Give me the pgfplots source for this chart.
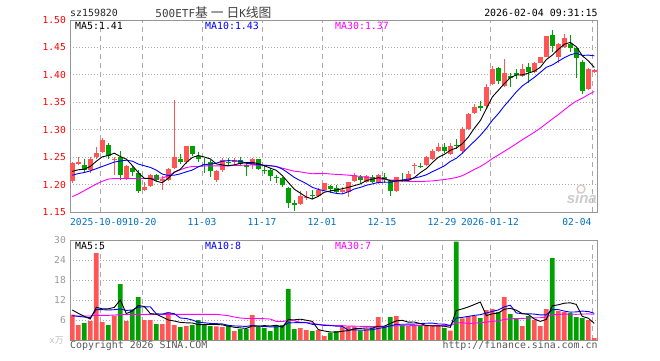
\documentclass[border=0pt]{standalone}
\usepackage{pgfplots}
\pgfplotsset{compat=1.18}
\usepackage{pgfplotstable}
\usepackage{fontspec}
\setmainfont{DejaVu Sans Mono}
\newfontfamily\cjk{Noto Sans CJK SC}
\newfontfamily\sinafont{Liberation Sans}
\definecolor{upred}{RGB}{255,85,85}
\definecolor{dngreen}{RGB}{0,160,0}
\definecolor{tickblue}{RGB}{0,112,192}
\definecolor{framegray}{RGB}{150,150,150}
\definecolor{gridgray}{RGB}{170,170,170}
\definecolor{mablue}{RGB}{0,0,255}
\definecolor{mamag}{RGB}{255,0,255}
\newcommand\tf{\fontsize{9.9}{11}\selectfont}
\newcommand\tkf{\fontsize{9.6}{11}\selectfont}
\newcommand\ck{\cjk\fontsize{12.8}{13}\selectfont}
\pgfplotstableread{
k o h l c u v m5 m10 m30 vm5 vm10 vm30
0 1.206 1.242 1.202 1.240 1 7.6 1.224 1.217 1.178 9.0 7.3 7.2
1 1.237 1.250 1.235 1.241 1 4.5 1.227 1.220 1.183 8.0 7.1 7.2
2 1.236 1.247 1.222 1.226 0 5.1 1.228 1.222 1.189 7.1 6.9 7.2
3 1.227 1.251 1.221 1.247 1 5.7 1.233 1.225 1.195 6.3 6.7 7.2
4 1.250 1.268 1.247 1.258 1 26.1 1.2424 1.229 1.201 9.80 9.1 7.4
5 1.260 1.285 1.258 1.281 1 5.4 1.2506 1.233 1.206 9.36 9.1 7.4
6 1.273 1.275 1.247 1.253 0 4.5 1.2530 1.237 1.210 9.36 9.0 7.4
7 1.246 1.251 1.217 1.247 1 7.3 1.2572 1.241 1.211 9.80 9.1 7.5
8 1.250 1.262 1.208 1.217 0 16.8 1.2512 1.243 1.211 12.02 9.3 7.6
9 1.212 1.236 1.209 1.234 1 5.7 1.2464 1.2444 1.211 7.94 8.87 7.7
10 1.231 1.233 1.216 1.223 0 9.0 1.2348 1.2427 1.211 8.66 9.01 7.7
11 1.222 1.227 1.185 1.188 0 12.9 1.2218 1.2374 1.211 10.34 9.85 7.7
12 1.191 1.205 1.188 1.195 1 6.0 1.2114 1.2343 1.211 10.08 9.94 7.7
13 1.198 1.219 1.196 1.217 1 6.0 1.2114 1.2313 1.211 7.92 9.97 7.7
14 1.217 1.219 1.206 1.208 0 4.8 1.2062 1.2263 1.212 7.74 7.84 7.7
15 1.208 1.215 1.190 1.209 1 4.8 1.2034 1.2191 1.212 6.90 7.78 7.7
16 1.208 1.231 1.206 1.229 1 8.4 1.2116 1.2167 1.216 6.00 8.17 7.7
17 1.230 1.354 1.228 1.251 1 4.5 1.2228 1.2171 1.222 5.70 7.89 7.7
18 1.246 1.255 1.237 1.242 0 3.9 1.2278 1.2196 1.227 5.28 6.60 7.7
19 1.241 1.270 1.238 1.270 1 4.2 1.2402 1.2232 1.231 5.16 6.45 7.7
20 1.270 1.271 1.253 1.255 0 4.5 1.2494 1.2264 1.233 5.10 6.00 7.7
21 1.253 1.260 1.241 1.247 0 6.0 1.2530 1.2323 1.233 4.62 5.31 7.7
22 1.238 1.249 1.222 1.237 0 4.5 1.2502 1.2365 1.234 4.62 5.16 7.7
23 1.241 1.244 1.214 1.225 0 4.2 1.2468 1.2373 1.234 4.68 4.98 7.7
24 1.208 1.227 1.204 1.225 1 4.1 1.2378 1.2390 1.234 4.66 4.91 7.7
25 1.226 1.248 1.223 1.245 1 3.9 1.2358 1.2426 1.234 4.54 4.82 7.5
26 1.242 1.249 1.235 1.240 0 4.2 1.2344 1.2437 1.234 4.18 4.40 7.3
27 1.241 1.249 1.236 1.245 1 2.7 1.2360 1.2431 1.235 3.82 4.22 6.9
28 1.245 1.251 1.235 1.238 0 3.3 1.2386 1.2427 1.235 3.64 4.16 6.6
29 1.236 1.239 1.216 1.232 0 3.3 1.2400 1.2389 1.2355 3.48 4.07 6.46
30 1.236 1.249 1.228 1.247 1 7.5 1.2404 1.2381 1.2357 4.20 4.37 6.46
31 1.247 1.247 1.226 1.229 0 3.9 1.2382 1.2363 1.2353 4.14 4.16 6.44
32 1.227 1.235 1.219 1.226 0 3.6 1.2344 1.2352 1.2353 4.32 4.07 6.39
33 1.226 1.230 1.206 1.216 0 2.7 1.2300 1.2343 1.2343 4.20 3.92 6.29
34 1.214 1.217 1.202 1.212 0 4.5 1.2260 1.2330 1.2328 4.44 3.96 5.57
35 1.212 1.214 1.196 1.199 0 4.5 1.2164 1.2284 1.2300 3.84 4.02 5.54
36 1.193 1.196 1.157 1.166 0 15.3 1.2038 1.2210 1.2271 6.12 5.13 5.90
37 1.166 1.171 1.152 1.165 0 3.3 1.1916 1.2130 1.2244 6.06 5.19 5.77
38 1.165 1.188 1.162 1.180 1 3.6 1.1844 1.2072 1.2232 6.24 5.22 5.33
39 1.176 1.189 1.171 1.177 1 3.0 1.1774 1.2017 1.2213 5.94 5.19 5.24
40 1.181 1.191 1.173 1.180 0 2.7 1.1736 1.1950 1.2198 5.58 4.71 5.03
41 1.180 1.193 1.178 1.191 1 3.0 1.1786 1.1912 1.2199 3.12 4.62 4.70
42 1.191 1.203 1.190 1.202 1 1.2 1.1860 1.1888 1.2202 2.70 4.38 4.54
43 1.198 1.200 1.185 1.192 0 2.2 1.1884 1.1864 1.2193 2.42 4.33 4.41
44 1.193 1.199 1.182 1.186 0 2.7 1.1902 1.1838 1.2186 2.36 4.15 4.34
45 1.186 1.196 1.182 1.191 1 4.0 1.1924 1.1830 1.2180 2.62 4.10 4.31
46 1.186 1.204 1.178 1.204 1 4.0 1.1950 1.1868 1.2172 2.82 2.97 4.17
47 1.206 1.222 1.204 1.217 1 4.0 1.1980 1.1920 1.2160 3.38 3.04 4.15
48 1.214 1.217 1.203 1.208 0 2.7 1.2012 1.1948 1.2149 3.48 2.95 4.11
49 1.205 1.217 1.203 1.216 1 3.4 1.2072 1.1987 1.2131 3.62 2.99 4.08
50 1.214 1.217 1.202 1.205 0 3.7 1.2100 1.2012 1.2114 3.56 3.09 4.06
51 1.203 1.219 1.201 1.217 1 6.9 1.2126 1.2038 1.2104 4.14 3.48 4.09
52 1.214 1.221 1.202 1.208 0 4.0 1.2108 1.2044 1.2095 4.14 3.76 4.07
53 1.206 1.208 1.180 1.189 0 6.9 1.2070 1.2041 1.2083 4.98 4.23 4.16
54 1.189 1.214 1.187 1.213 1 7.2 1.2064 1.2068 1.2079 5.74 4.68 4.26
55 1.208 1.221 1.205 1.2075 0 4.5 1.2069 1.2085 1.2066 5.90 4.73 4.28
56 1.208 1.224 1.206 1.219 1 4.2 1.2073 1.2100 1.2059 5.36 4.75 4.28
57 1.235 1.239 1.219 1.236 1 4.2 1.2129 1.2119 1.2056 5.40 4.77 4.33
58 1.2335 1.239 1.230 1.233 0 4.5 1.2217 1.2144 1.2055 4.92 4.95 4.37
59 1.235 1.252 1.233 1.250 1 4.2 1.2291 1.2178 1.2061 4.32 5.03 4.40
60 1.247 1.264 1.245 1.262 1 4.2 1.2400 1.2235 1.2066 4.26 5.08 4.29
61 1.262 1.275 1.260 1.268 1 4.2 1.2498 1.2286 1.2079 4.26 4.81 4.30
62 1.268 1.275 1.258 1.262 0 3.6 1.2550 1.2340 1.2091 4.14 4.77 4.30
63 1.256 1.275 1.254 1.271 1 2.8 1.2626 1.2422 1.2109 3.80 4.36 4.31
64 1.273 1.283 1.265 1.270 0 29.5 1.2666 1.2479 1.2128 8.86 6.59 5.14
65 1.261 1.305 1.256 1.301 1 6.5 1.2744 1.2572 1.2162 9.32 6.79 5.21
66 1.301 1.330 1.299 1.329 1 7.2 1.2866 1.2682 1.2217 9.92 7.09 4.94
67 1.331 1.346 1.329 1.342 1 7.2 1.3026 1.2788 1.2276 10.64 7.39 5.07
68 1.342 1.352 1.334 1.341 0 6.6 1.3166 1.2896 1.2329 11.40 7.60 5.17
69 1.343 1.383 1.340 1.377 1 9.0 1.3380 1.3023 1.2396 7.30 8.08 5.37
70 1.384 1.416 1.382 1.410 1 9.3 1.3598 1.3171 1.2473 7.86 8.59 5.59
71 1.412 1.414 1.383 1.389 0 8.4 1.3718 1.3292 1.2539 8.10 9.01 5.77
72 1.380 1.429 1.378 1.403 1 12.9 1.3840 1.3433 1.2606 9.24 9.94 6.16
73 1.397 1.404 1.377 1.3965 0 7.8 1.3951 1.3559 1.2674 9.48 10.44 6.34
74 1.404 1.411 1.392 1.400 0 6.3 1.3997 1.3689 1.2745 8.94 8.12 6.46
75 1.398 1.419 1.396 1.411 1 4.2 1.3999 1.3799 1.2818 7.92 7.89 6.47
76 1.414 1.422 1.386 1.405 0 7.2 1.4031 1.3875 1.2885 7.68 7.89 6.58
77 1.405 1.424 1.403 1.421 1 6.0 1.4067 1.3954 1.2953 6.30 7.77 6.64
78 1.422 1.433 1.421 1.432 1 4.2 1.4138 1.4045 1.3028 5.58 7.53 6.69
79 1.433 1.471 1.432 1.470 1 9.3 1.4278 1.4138 1.3113 6.18 7.56 6.89
80 1.472 1.482 1.441 1.452 0 24.6 1.4360 1.4180 1.3195 10.26 9.09 7.59
81 1.432 1.458 1.422 1.457 1 8.7 1.4464 1.4248 1.3275 10.56 9.12 7.65
82 1.450 1.475 1.449 1.468 1 8.4 1.4558 1.4313 1.3362 11.04 8.67 7.79
83 1.456 1.473 1.441 1.449 0 8.1 1.4592 1.4365 1.3448 11.16 8.37 7.72
84 1.449 1.449 1.395 1.430 0 6.9 1.4512 1.4395 1.3521 10.68 8.43 7.71
85 1.424 1.427 1.366 1.370 0 6.6 1.4348 1.4354 1.3575 7.08 8.67 7.78
86 1.375 1.412 1.372 1.411 1 6.0 1.4256 1.4360 1.3639 6.54 8.55 7.84
87 1.407 1.411 1.404 1.4075 1 0.6 1.4135 1.4347 1.3696 4.98 8.01 7.72
}\kdata
\pgfplotsset{
  kbase/.style={
    scale only axis, width=527.7pt,
    xmin=-0.383, xmax=87.567,
    axis line style={draw=framegray, line width=1pt},
    xtick={4.617,11.617,21.617,31.617,41.617,51.617,61.617,69.617,86.617},
    xticklabels={},
    major tick length=0pt,
    xmajorgrids, ymajorgrids,
    x grid style={gridgray, line width=0.7pt, dash pattern=on 5pt off 4pt},
    y grid style={gridgray, line width=0.8pt, dash pattern=on 1pt off 2pt},
    /pgf/number format/assume math mode=true,
  },
  ebar/.style 2 args={draw=none, mark=none, forget plot,
    error bars/.cd, y dir=both, y explicit, error mark=none,
    error bar style={draw=#1, line width=#2, line cap=butt}},
}
\begin{document}
\begin{tikzpicture}
\path (0,0) rectangle (660pt,360pt);
% ---------- price panel ----------
\begin{axis}[kbase, at={(70pt,148pt)}, anchor=south west, height=192pt,
  ymin=1.15, ymax=1.50,
  ytick={1.15,1.2,1.25,1.3,1.35,1.4,1.45,1.5},
  yticklabel style={font=\tkf, text=red, inner sep=0pt, xshift=-4pt,
    /pgf/number format/fixed, /pgf/number format/fixed zerofill,
    /pgf/number format/precision=2}]
\addplot[ebar={upred}{1pt}] table[x=k, y expr={(\thisrow{h}+\thisrow{l})/2}, y error expr={\thisrow{u}*(\thisrow{h}-\thisrow{l})/2}] {\kdata};
\addplot[ebar={dngreen}{1pt}] table[x=k, y expr={(\thisrow{h}+\thisrow{l})/2}, y error expr={(1-\thisrow{u})*(\thisrow{h}-\thisrow{l})/2}] {\kdata};
\addplot[ebar={upred}{4.7pt}] table[x=k, y expr={(\thisrow{o}+\thisrow{c})/2}, y error expr={\thisrow{u}*max(abs(\thisrow{c}-\thisrow{o})/2,0.0009)}] {\kdata};
\addplot[ebar={dngreen}{4.7pt}] table[x=k, y expr={(\thisrow{o}+\thisrow{c})/2}, y error expr={(1-\thisrow{u})*max(abs(\thisrow{c}-\thisrow{o})/2,0.0009)}] {\kdata};
\addplot[mamag, line width=0.9pt, mark=none] table[x=k, y=m30] {\kdata};
\addplot[mablue, line width=0.9pt, mark=none] table[x=k, y=m10] {\kdata};
\addplot[black, line width=0.9pt, mark=none] table[x=k, y=m5] {\kdata};
\end{axis}
% ---------- volume panel ----------
\begin{axis}[kbase, at={(70pt,20pt)}, anchor=south west, height=100pt,
  ymin=0, ymax=30, ytick={6,12,18,24,30},
  yticklabel style={font=\tkf, text=gridgray!90!black, inner sep=0pt, xshift=-4pt}]
\addplot[ybar, bar width=4.7pt, bar shift=0pt, fill=upred, draw=none] table[x=k, y expr={\thisrow{u}*\thisrow{v}}] {\kdata};
\addplot[ybar, bar width=4.7pt, bar shift=0pt, fill=dngreen, draw=none] table[x=k, y expr={(1-\thisrow{u})*\thisrow{v}}] {\kdata};
\addplot[mamag, line width=0.9pt, mark=none] table[x=k, y=vm30] {\kdata};
\addplot[mablue, line width=0.9pt, mark=none] table[x=k, y=vm10] {\kdata};
\addplot[black, line width=0.9pt, mark=none] table[x=k, y=vm5] {\kdata};
\end{axis}
% ---------- texts ----------
\node[anchor=base west, inner sep=0pt, font=\tf, text=black!85] at (70pt,343.3pt) {sz159820};
\node[anchor=base, inner sep=0pt, text=black!75] at (213.5pt,343pt) {\fontsize{11}{12}\selectfont 500ETF{\ck 基}{\ck\ 一\ 日}K{\ck 线图}};
\node[anchor=base east, inner sep=0pt, font=\tf, text=black] at (597.7pt,344pt) {2026-02-04 09:31:15};
\node[anchor=base west, inner sep=0pt, font=\tf, text=black] at (75pt,330.7pt) {MA5:1.41};
\node[anchor=base west, inner sep=0pt, font=\tf, text=mablue] at (205pt,330.7pt) {MA10:1.43};
\node[anchor=base west, inner sep=0pt, font=\tf, text=mamag] at (335pt,330.7pt) {MA30:1.37};
\node[anchor=base west, inner sep=0pt, font=\tf, text=black] at (75pt,110.7pt) {MA5:5};
\node[anchor=base west, inner sep=0pt, font=\tf, text=mablue] at (205pt,110.7pt) {MA10:8};
\node[anchor=base west, inner sep=0pt, font=\tf, text=mamag] at (335pt,110.7pt) {MA30:7};
% x tick labels
\node[anchor=base west, inner sep=0pt, font=\tkf, text=tickblue] at (70pt,135pt) {2025-10-09};
\node[anchor=base, inner sep=0pt, font=\tkf, text=tickblue] at (142pt,135pt) {10-20};
\node[anchor=base, inner sep=0pt, font=\tkf, text=tickblue] at (202pt,135pt) {11-03};
\node[anchor=base, inner sep=0pt, font=\tkf, text=tickblue] at (262pt,135pt) {11-17};
\node[anchor=base, inner sep=0pt, font=\tkf, text=tickblue] at (322pt,135pt) {12-01};
\node[anchor=base, inner sep=0pt, font=\tkf, text=tickblue] at (382pt,135pt) {12-15};
\node[anchor=base, inner sep=0pt, font=\tkf, text=tickblue] at (442pt,135pt) {12-29};
\node[anchor=base, inner sep=0pt, font=\tkf, text=tickblue] at (490pt,135pt) {2026-01-12};
\node[anchor=base east, inner sep=0pt, font=\tkf, text=tickblue] at (591.5pt,135pt) {02-04};
% footer
\node[anchor=base east, inner sep=0pt, text=gray!50] at (64pt,17pt) {\fontsize{9}{10}\selectfont x{\cjk 万}};
\node[anchor=base west, inner sep=0pt, font=\tf, text=black!65] at (70pt,11.3pt) {Copyright 2026 SINA.COM};
\node[anchor=base east, inner sep=0pt, font=\tf, text=black!65] at (597.7pt,11.3pt) {http://finance.sina.com.cn};
% watermark
\draw[red!25!gray!35, line width=1.4pt] (581pt,171pt) circle (4pt);
\node[anchor=base east, inner sep=0pt, text=gray!40] at (597pt,157pt) {\sinafont\bfseries\itshape\fontsize{15}{15}\selectfont sina};
\end{tikzpicture}
\end{document}
